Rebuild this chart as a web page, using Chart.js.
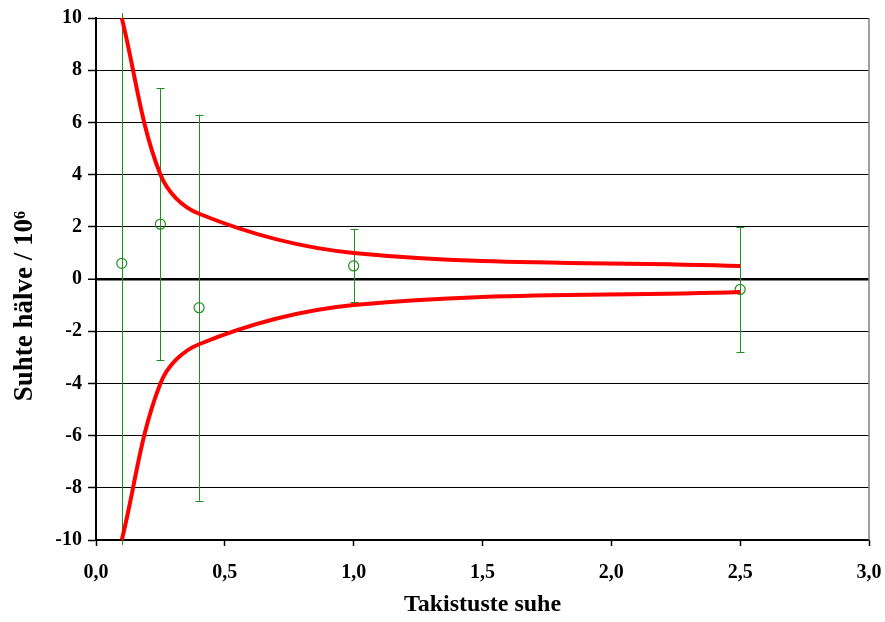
<!DOCTYPE html>
<html>
<head>
<meta charset="utf-8">
<script src="https://cdn.jsdelivr.net/npm/chart.js@4"></script>
<style>
  html, body { margin: 0; padding: 0; background: #fff; }
  #wrap { width: 885px; height: 622px; position: relative; }
</style>
</head>
<body>
<div id="wrap"><canvas id="myChart"></canvas></div>
<script>
// kõverad (piirid)
const curveX = [0.1, 0.25, 0.4, 1.0, 2.5];
const upperY = [10, 4, 2.5, 1.0, 0.5];
const lowerY = [-10, -4, -2.5, -1.0, -0.5];

// mõõtmised koos vigadega
const pointX = [0.1, 0.25, 0.4, 1.0, 2.5];
const pointY = [0.6, 2.1, -1.1, 0.5, -0.4];
const errLow = [-12, -3.1, -8.5, -0.9, -2.8];
const errHigh = [12, 7.3, 6.3, 1.9, 2.0];

const xTicks = [0, 0.5, 1.0, 1.5, 2.0, 2.5, 3.0];
const yTicks = [-10, -8, -6, -4, -2, 0, 2, 4, 6, 8, 10];

const green = '#1f8f1f';
const fontFam = '"Liberation Serif", "Times New Roman", serif';

// vearibad joonistatakse enne andmestikke, parem raam pärast
const errorBars = {
    id: 'errorBars',
    beforeDatasetsDraw(chart) {
        const ctx = chart.ctx;
        const xs = chart.scales.x, ys = chart.scales.y;
        const a = chart.chartArea;
        ctx.save();
        ctx.beginPath();
        ctx.rect(a.left, a.top - 5, a.right - a.left, a.bottom - a.top + 10);
        ctx.clip();
        ctx.strokeStyle = green;
        ctx.lineWidth = 1;
        pointX.forEach((x, i) => {
            const px = Math.round(xs.getPixelForValue(x)) + 0.5;
            const top = ys.getPixelForValue(errHigh[i]);
            const bot = ys.getPixelForValue(errLow[i]);
            ctx.beginPath();
            ctx.moveTo(px, top);
            ctx.lineTo(px, bot);
            ctx.moveTo(px - 4, Math.round(top) + 0.5);
            ctx.lineTo(px + 4, Math.round(top) + 0.5);
            ctx.moveTo(px - 4, Math.round(bot) + 0.5);
            ctx.lineTo(px + 4, Math.round(bot) + 0.5);
            ctx.stroke();
        });
        ctx.restore();
    },
    afterDraw(chart) {
        const ctx = chart.ctx;
        const a = chart.chartArea;
        ctx.save();
        ctx.strokeStyle = '#808080';
        ctx.lineWidth = 1.5;
        ctx.beginPath();
        ctx.moveTo(a.right, a.top);
        ctx.lineTo(a.right, a.bottom);
        ctx.stroke();
        ctx.restore();
    }
};

const ctx = document.getElementById('myChart');
new Chart(ctx, {
    type: 'scatter',
    data: {
        datasets: [
            {
                type: 'line',
                data: curveX.map((x, i) => ({ x: x, y: upperY[i] })),
                borderColor: '#ff0000',
                borderWidth: 4,
                pointRadius: 0,
                tension: 0.35,
                fill: false,
                clip: 5
            },
            {
                type: 'line',
                data: curveX.map((x, i) => ({ x: x, y: lowerY[i] })),
                borderColor: '#ff0000',
                borderWidth: 4,
                pointRadius: 0,
                tension: 0.35,
                fill: false,
                clip: 5
            },
            {
                data: pointX.map((x, i) => ({ x: x, y: pointY[i] })),
                pointStyle: 'circle',
                pointRadius: 5,
                borderColor: green,
                backgroundColor: 'rgba(0,0,0,0)',
                borderWidth: 1.2
            }
        ]
    },
    options: {
        responsive: true,
        maintainAspectRatio: false,
        animation: false,
        layout: { padding: { top: 17, right: 16, left: 0, bottom: 0 } },
        plugins: {
            legend: { display: false },
            tooltip: { enabled: false }
        },
        scales: {
            x: {
                type: 'linear',
                min: 0,
                max: 3,
                afterFit: s => { s.height = 82; s.paddingLeft = 0; s.paddingRight = 0; },
                afterBuildTicks: s => { s.ticks = xTicks.map(v => ({ value: v })); },
                grid: {
                    drawOnChartArea: false,
                    color: '#000',
                    tickLength: 6,
                    tickWidth: 1.5
                },
                border: { color: '#000', width: 1.5 },
                ticks: {
                    color: '#000',
                    padding: 15,
                    maxRotation: 0,
                    font: { family: fontFam, size: 20, weight: 'bold' },
                    callback: v => v.toFixed(1).replace('.', ',')
                },
                title: {
                    display: true,
                    text: 'Takistuste suhe',
                    color: '#000',
                    padding: { top: 0, bottom: 3 },
                    font: { family: fontFam, size: 24, weight: 'bold' }
                }
            },
            y: {
                min: -10,
                max: 10,
                afterFit: s => { s.width = 96; },
                afterBuildTicks: s => { s.ticks = yTicks.map(v => ({ value: v })); },
                grid: {
                    color: '#000',
                    lineWidth: c => (c.tick && c.tick.value === 0 ? 2.5 : 1),
                    tickLength: 8,
                    tickColor: '#000',
                    tickWidth: 1.5
                },
                border: { color: '#000', width: 2 },
                ticks: {
                    color: '#000',
                    padding: 6,
                    font: { family: fontFam, size: 20, weight: 'bold' }
                },
                title: {
                    display: true,
                    // tühikud lõpus nihutavad teksti allapoole nagu originaalis
                    text: 'Suhte hälve / 10⁶\u2003\u2003',
                    color: '#000',
                    padding: { top: 9, bottom: 0 },
                    font: { family: fontFam, size: 27, weight: 'bold' }
                }
            }
        }
    },
    plugins: [errorBars]
});
</script>
</body>
</html>
